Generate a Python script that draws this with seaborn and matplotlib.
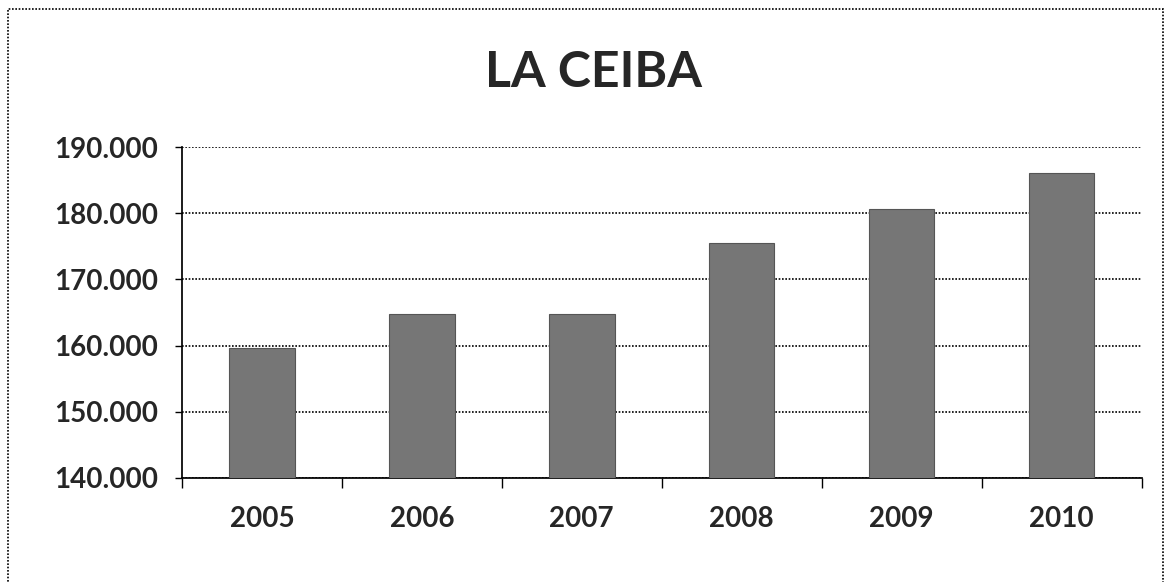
import matplotlib
matplotlib.use("Agg")
import matplotlib.pyplot as plt
import seaborn as sns
import pandas as pd
from matplotlib.patches import Rectangle
from matplotlib.ticker import FuncFormatter, FixedLocator

# ----- data -----
years = ["2005", "2006", "2007", "2008", "2009", "2010"]
population = [159700, 164800, 164800, 175500, 180700, 186100]
y_ticks = [140000, 150000, 160000, 170000, 180000, 190000]

sns.set_theme(style="white")
plt.rcParams["font.family"] = ["Lato", "DejaVu Sans"]

df = pd.DataFrame({"year": years, "population": population})

fig = plt.figure(figsize=(11.66, 5.82), dpi=100)
ax = fig.add_axes([0.156, 0.179, 0.823, 0.568])

sns.barplot(data=df, x="year", y="population", color="#767676",
            saturation=1, width=0.41, ax=ax, zorder=3,
            edgecolor="#555555", linewidth=0.8)

ax.set_ylim(140000, 190000)
ax.set_xlim(-0.5, len(years) - 0.5)
ax.yaxis.set_major_locator(FixedLocator(y_ticks))
ax.yaxis.set_major_formatter(
    FuncFormatter(lambda v, p: f"{v:,.0f}".replace(",", ".")))

ax.grid(axis="y", color="black", linestyle=(0, (1, 1)), linewidth=1.2, zorder=1)

for side in ["top", "right"]:
    ax.spines[side].set_visible(False)
ax.spines["left"].set_color("black")
ax.spines["bottom"].set_color("black")

# category boundary ticks on x, small outward ticks on y
ax.set_xticks([i - 0.5 for i in range(len(years) + 1)], minor=True)
ax.tick_params(axis="x", which="minor", length=7, width=1, color="black",
               direction="out", bottom=True)
ax.tick_params(axis="x", which="major", length=0, pad=20)
ax.tick_params(axis="y", which="major", length=5, width=1, color="black",
               direction="out", left=True, pad=12, labelsize=20)
for lbl in ax.get_xticklabels():
    lbl.set_fontfamily(["Liberation Sans Narrow", "Lato"])
    lbl.set_fontsize(20)
    lbl.set_fontweight("bold")
for lbl in ax.get_yticklabels():
    lbl.set_fontweight("bold")

ax.set_xlabel("")
ax.set_ylabel("")

fig.text(0.509, 0.875, "LA CEIBA", ha="center", va="center",
         fontsize=36, fontweight="bold")

# dotted frame around the chart area
fig.patches.append(Rectangle((0.007, -0.02), 0.99, 1.005,
                             transform=fig.transFigure, fill=False,
                             edgecolor="black", linestyle=(0, (1, 1)),
                             linewidth=1.2))

fig.savefig("out.png", dpi=100)
